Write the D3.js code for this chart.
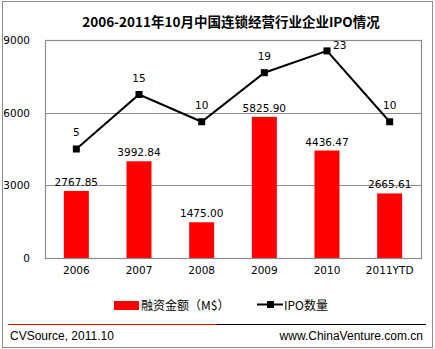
<!DOCTYPE html>
<html>
<head>
<meta charset="utf-8">
<script src="https://cdn.jsdelivr.net/npm/d3@7"></script>
<style>
  html, body { margin: 0; padding: 0; background: #fff; }
  svg { display: block; }
</style>
</head>
<body>
<svg id="chart" width="435" height="349"></svg>
<script>
// Chart data
const years = ["2006", "2007", "2008", "2009", "2010", "2011YTD"];
const amounts = [2767.85, 3992.84, 1475.00, 5825.90, 4436.47, 2665.61];
const ipoCounts = [5, 15, 10, 19, 23, 10];
const amountTicks = [0, 3000, 6000, 9000];
const titleText = "2006-2011年10月中国连锁经营行业企业IPO情况";
const legendLabels = ["融资金额（M$）", "IPO数量"];
const footerLeft = "CVSource, 2011.10";
const footerRight = "www.ChinaVenture.com.cn";

const svg = d3.select("#chart");
const W = 435, H = 349;
const plot = { left: 45, top: 40, right: 421, bottom: 258 };

const cjk = "'Noto Sans CJK SC', sans-serif";
const num = "'DejaVu Sans', Verdana, sans-serif";
const arial = "'Liberation Sans', Arial, sans-serif";

// outer frame
svg.append("rect")
  .attr("x", 2.5).attr("y", 1.5).attr("width", W - 5).attr("height", H - 3)
  .attr("fill", "#fff").attr("stroke", "#8c8c8c").attr("stroke-width", 1);

// title
svg.append("text")
  .attr("x", 231).attr("y", 27)
  .attr("text-anchor", "middle")
  .attr("font-family", cjk).attr("font-weight", "bold").attr("font-size", 13.5)
  .attr("fill", "#000")
  .text(titleText);

// scales
const xc = d3.scaleBand().domain(years).range([plot.left, plot.right]);
const y = d3.scaleLinear().domain([0, 9000]).range([plot.bottom, plot.top]);
const y2 = d3.scaleLinear().domain([-15, 25]).range([plot.bottom, plot.top]);
const cx = (d, i) => xc(years[i]) + xc.bandwidth() / 2;

// gridlines
svg.append("g")
  .selectAll("line")
  .data(amountTicks.filter(t => t > 0 && t < 9000))
  .join("line")
  .attr("x1", plot.left).attr("x2", plot.right)
  .attr("y1", d => Math.round(y(d)) + 0.5).attr("y2", d => Math.round(y(d)) + 0.5)
  .attr("stroke", "#8c8c8c").attr("stroke-width", 1);

// left axis labels
const yAxis = d3.axisLeft(y).tickValues(amountTicks).tickSize(0).tickPadding(0).tickFormat(d3.format("d"));
const gy = svg.append("g").attr("transform", "translate(30,0)").call(yAxis);
gy.select(".domain").remove();
gy.selectAll("text").attr("font-family", num).attr("font-size", 10.5).attr("fill", "#000");

// bars
svg.append("g")
  .selectAll("rect")
  .data(amounts)
  .join("rect")
  .attr("x", (d, i) => cx(d, i) - 12.5)
  .attr("width", 25)
  .attr("y", d => y(d))
  .attr("height", d => y(0) - y(d))
  .attr("fill", "#ff0000");

// plot border
svg.append("rect")
  .attr("x", plot.left + 0.5).attr("y", plot.top + 0.5)
  .attr("width", plot.right - plot.left).attr("height", plot.bottom - plot.top)
  .attr("fill", "none").attr("stroke", "#8c8c8c").attr("stroke-width", 1.2);

// bar value labels
svg.append("g")
  .selectAll("text")
  .data(amounts)
  .join("text")
  .attr("x", (d, i) => cx(d, i))
  .attr("y", d => y(d) - 5)
  .attr("text-anchor", "middle")
  .attr("font-family", num).attr("font-size", 10.5).attr("fill", "#000")
  .text(d => d.toFixed(2));

// x axis labels
const xAxis = d3.axisBottom(xc).tickSize(0).tickPadding(0);
const gx = svg.append("g").attr("transform", `translate(0,${plot.bottom + 9})`).call(xAxis);
gx.select(".domain").remove();
gx.selectAll("text").attr("font-family", num).attr("font-size", 10.5).attr("fill", "#000").attr("dy", "0.71em");

// IPO line
const line = d3.line().x((d, i) => cx(d, i)).y(d => y2(d));
svg.append("path")
  .datum(ipoCounts)
  .attr("d", line)
  .attr("fill", "none").attr("stroke", "#000").attr("stroke-width", 2);

svg.append("g")
  .selectAll("rect")
  .data(ipoCounts)
  .join("rect")
  .attr("x", (d, i) => cx(d, i) - 3.5)
  .attr("y", d => y2(d) - 3.5)
  .attr("width", 7).attr("height", 7)
  .attr("fill", "#000");

// IPO labels: above the marker, except where it would hit the top border
const maxIpo = d3.max(ipoCounts);
svg.append("g")
  .selectAll("text")
  .data(ipoCounts)
  .join("text")
  .attr("x", (d, i) => d === maxIpo ? cx(d, i) + 6 : cx(d, i))
  .attr("y", d => d === maxIpo ? y2(d) - 2 : y2(d) - 13)
  .attr("text-anchor", d => d === maxIpo ? "start" : "middle")
  .attr("font-family", num).attr("font-size", 10.5).attr("fill", "#000")
  .text(d => d);

// legend
const lg = svg.append("g");
lg.append("rect").attr("x", 114).attr("y", 301).attr("width", 25).attr("height", 9).attr("fill", "#ff0000");
lg.append("text").attr("x", 141).attr("y", 310)
  .attr("font-family", cjk).attr("font-size", 12).attr("fill", "#000")
  .text(legendLabels[0]);
lg.append("line").attr("x1", 257).attr("x2", 283).attr("y1", 304.5).attr("y2", 304.5)
  .attr("stroke", "#000").attr("stroke-width", 2);
lg.append("rect").attr("x", 267).attr("y", 301).attr("width", 7).attr("height", 7).attr("fill", "#000");
lg.append("text").attr("x", 284).attr("y", 310)
  .attr("font-family", cjk).attr("font-size", 12).attr("fill", "#000")
  .text(legendLabels[1]);

// footer rule
svg.append("line").attr("x1", 8).attr("x2", 217).attr("y1", 324.5).attr("y2", 324.5)
  .attr("stroke", "#ff0000").attr("stroke-width", 1);
svg.append("line").attr("x1", 217).attr("x2", 426).attr("y1", 324.5).attr("y2", 324.5)
  .attr("stroke", "#000").attr("stroke-width", 1);

// footer texts
svg.append("text").attr("x", 10).attr("y", 340)
  .attr("font-family", arial).attr("font-size", 12).attr("fill", "#000")
  .text(footerLeft);
svg.append("text").attr("x", 423).attr("y", 340).attr("text-anchor", "end")
  .attr("font-family", arial).attr("font-size", 12).attr("fill", "#000")
  .text(footerRight);
</script>
</body>
</html>
